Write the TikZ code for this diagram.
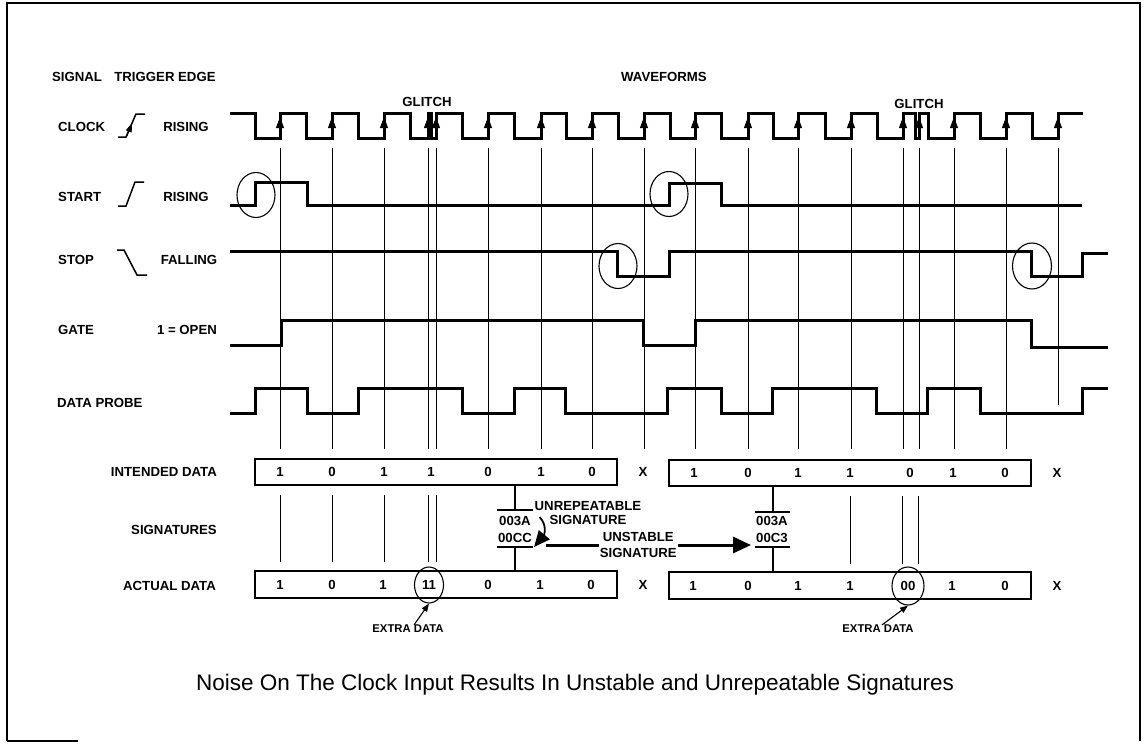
\documentclass[tikz,border=0pt]{standalone}
\usepackage{fontspec}
\setmainfont{Liberation Sans}
\usetikzlibrary{arrows.meta, shapes.geometric}

\begin{document}
\begin{tikzpicture}[x=1pt, y=-1pt,
  wave/.style={line width=3pt, line join=miter},
  sampleline/.style={line width=1pt},
  databox/.style={line width=1.6pt},
  trig/.style={line width=1.5pt},
  lbl/.style={inner sep=0pt, font=\fontsize{13.2}{14}\selectfont\bfseries},
  small/.style={inner sep=0pt, font=\fontsize{11.3}{12}\selectfont\bfseries},
  ring/.style={ellipse, draw, line width=1.1pt, inner sep=0pt},
  clkarrow/.style={line width=0.8pt, -{Triangle[length=11pt,width=8pt]}},
  thinarrow/.style={line width=1.1pt, -{Triangle[length=8pt,width=6pt]}},
  fatarrow/.style={line width=3pt, -{Triangle[length=18pt,width=16pt]}},
]
\useasboundingbox (0,0) rectangle (1146,744);

% frame
\draw[line width=2.4pt] (7,741) -- (7,3) -- (1140,3) -- (1140,741);
\draw[line width=2.4pt] (7,741) -- (78,741);

% headings
\node[lbl] (sighd) at (77,77) {SIGNAL};
\node[lbl] (trghd) at (165,77) {TRIGGER EDGE};
\node[lbl] (wavhd) at (664,77) {WAVEFORMS};

\node[lbl, anchor=west] (clk) at (58,127) {CLOCK};
\node[lbl] (clkedge) at (186,127) {RISING};
\node[lbl, anchor=west] (start) at (58,197) {START};
\node[lbl] (startedge) at (186,197) {RISING};
\node[lbl, anchor=west] (stop) at (58,260) {STOP};
\node[lbl] (stopedge) at (189,260) {FALLING};
\node[lbl, anchor=west] (gate) at (58,330) {GATE};
\node[lbl] (gateedge) at (187,330) {1 = OPEN};
\node[lbl, anchor=west] (probe) at (57,403) {DATA PROBE};
\node[lbl, anchor=east] (intd) at (217,472) {INTENDED DATA};
\node[lbl, anchor=east] (sigs) at (217,530) {SIGNATURES};
\node[lbl, anchor=east] (actd) at (216,586) {ACTUAL DATA};

% trigger edge symbols
\draw[trig] (118,137) -- (126,137) -- (136,114) -- (145,114);
\draw[line width=0.8pt, -{Triangle[length=9pt,width=6pt]}] (127,136) -- (132,123);
\draw[trig] (118,206) -- (126,206) -- (135,182) -- (144,182);
\draw[trig] (117,250) -- (124,250) -- (137,275) -- (147,275);

% waveforms
\draw[wave] (230,113) -- (255,113) -- (255,138) -- (280,138) -- (280,113) -- (306,113) -- (306,138) -- (332,138) -- (332,113) -- (358,113) -- (358,138) -- (384,138) -- (384,113) -- (410,113) -- (410,138) -- (428,138) -- (428,113) -- (431,113) -- (431,138) -- (436,138) -- (436,113) -- (462,113) -- (462,138) -- (488,138) -- (488,113) -- (514,113) -- (514,138) -- (541,138) -- (541,113) -- (566,113) -- (566,138) -- (592,138) -- (592,113) -- (618,113) -- (618,138) -- (644,138) -- (644,113) -- (670,113) -- (670,138) -- (695,138) -- (695,113) -- (721,113) -- (721,138) -- (748,138) -- (748,113) -- (773,113) -- (773,138) -- (798,138) -- (798,113) -- (825,113) -- (825,138) -- (851,138) -- (851,113) -- (877,113) -- (877,138) -- (903,138) -- (903,113) -- (915,113) -- (915,138) -- (919,138) -- (919,113) -- (928,113) -- (928,138) -- (954,138) -- (954,113) -- (980,113) -- (980,138) -- (1006,138) -- (1006,113) -- (1032,113) -- (1032,138) -- (1058,138) -- (1058,113) -- (1083,113);
\draw[wave] (230,205) -- (255,205) -- (255,182) -- (307,182) -- (307,205) -- (669,205) -- (669,183) -- (721,183) -- (721,205) -- (1082,205);
\draw[wave] (230,251) -- (617,251) -- (617,276) -- (669,276) -- (669,251) -- (1031,251) -- (1031,276) -- (1082,276) -- (1082,253) -- (1108,253);
\draw[wave] (230,345) -- (281,345) -- (281,320) -- (643,320) -- (643,345) -- (695,345) -- (695,320) -- (1031,320) -- (1031,347) -- (1108,347);
\draw[wave] (230,413) -- (255,413) -- (255,388) -- (307,388) -- (307,413) -- (358,413) -- (358,388) -- (462,388) -- (462,413) -- (514,413) -- (514,388) -- (565,388) -- (565,413) -- (667,413) -- (667,388) -- (721,388) -- (721,413) -- (772,413) -- (772,388) -- (876,388) -- (876,413) -- (927,413) -- (927,388) -- (980,388) -- (980,413) -- (1082,413) -- (1082,388) -- (1108,388);

% clock edges
\draw[clkarrow] (280,138) -- (280,117);
\draw[clkarrow] (332,138) -- (332,117);
\draw[clkarrow] (384,138) -- (384,117);
\draw[clkarrow] (428,138) -- (428,117);
\draw[clkarrow] (436,138) -- (436,117);
\draw[clkarrow] (488,138) -- (488,117);
\draw[clkarrow] (541,138) -- (541,117);
\draw[clkarrow] (592,138) -- (592,117);
\draw[clkarrow] (644,138) -- (644,117);
\draw[clkarrow] (695,138) -- (695,117);
\draw[clkarrow] (748,138) -- (748,117);
\draw[clkarrow] (798,138) -- (798,117);
\draw[clkarrow] (851,138) -- (851,117);
\draw[clkarrow] (903,138) -- (903,117);
\draw[clkarrow] (919,138) -- (919,117);
\draw[clkarrow] (954,138) -- (954,117);
\draw[clkarrow] (1006,138) -- (1006,117);
\draw[clkarrow] (1058,138) -- (1058,117);

\node[lbl] (gl1) at (427,102) {GLITCH};
\node[lbl] (gl2) at (919,104) {GLITCH};

% sample lines
\draw[sampleline] (280,148) -- (280,449);
\draw[sampleline] (332,148) -- (332,449);
\draw[sampleline] (384,148) -- (384,449);
\draw[sampleline] (428,148) -- (428,449);
\draw[sampleline] (436,148) -- (436,449);
\draw[sampleline] (488,148) -- (488,449);
\draw[sampleline] (541,148) -- (541,449);
\draw[sampleline] (592,148) -- (592,449);
\draw[sampleline] (644,148) -- (644,449);
\draw[sampleline] (695,148) -- (695,449);
\draw[sampleline] (748,148) -- (748,449);
\draw[sampleline] (798,148) -- (798,449);
\draw[sampleline] (851,148) -- (851,449);
\draw[sampleline] (903,148) -- (903,449);
\draw[sampleline] (919,148) -- (919,449);
\draw[sampleline] (954,148) -- (954,449);
\draw[sampleline] (1006,148) -- (1006,449);
\draw[sampleline] (1058,148) -- (1058,405);

\draw[sampleline] (280,495) -- (280,562);
\draw[sampleline] (332,495) -- (332,562);
\draw[sampleline] (384,495) -- (384,562);
\draw[sampleline] (428,495) -- (428,562);
\draw[sampleline] (436,495) -- (436,562);
\draw[sampleline] (850,496) -- (850,564);
\draw[sampleline] (902,496) -- (902,564);
\draw[sampleline] (918,496) -- (918,564);

% circled edges
\node[ring, minimum width=38pt, minimum height=45pt] (st1) at (256,195) {};
\node[ring, minimum width=38pt, minimum height=45pt] (st2) at (669,194) {};
\node[ring, minimum width=38pt, minimum height=45pt] (sp1) at (618,266) {};
\node[ring, minimum width=39pt, minimum height=46pt] (sp2) at (1032,266) {};

% intended data
\draw[databox] (255,459) rectangle (617,485);
\draw[databox] (669,460) rectangle (1031,486);
\node[lbl] (ia1) at (280,472) {1};
\node[lbl] (ia2) at (332,472) {0};
\node[lbl] (ia3) at (384,472) {1};
\node[lbl] (ia4) at (431,472) {1};
\node[lbl] (ia5) at (488,472) {0};
\node[lbl] (ia6) at (541,472) {1};
\node[lbl] (ia7) at (592,472) {0};
\node[lbl] (iax) at (643,472) {X};
\node[lbl] (ib1) at (694,473) {1};
\node[lbl] (ib2) at (748,473) {0};
\node[lbl] (ib3) at (798,473) {1};
\node[lbl] (ib4) at (850,473) {1};
\node[lbl] (ib5) at (910,473) {0};
\node[lbl] (ib6) at (953,473) {1};
\node[lbl] (ib7) at (1005,473) {0};
\node[lbl] (ibx) at (1057,473) {X};

% actual data
\draw[databox] (255,571) rectangle (617,598);
\draw[databox] (669,572) rectangle (1031,599);
\node[lbl] (aa1) at (280,585) {1};
\node[lbl] (aa2) at (332,585) {0};
\node[lbl] (aa3) at (383,585) {1};
\node[ring, lbl, minimum width=29pt, minimum height=36pt] (aa4) at (429,585) {11};
\node[lbl] (aa5) at (488,585) {0};
\node[lbl] (aa6) at (540,585) {1};
\node[lbl] (aa7) at (591,585) {0};
\node[lbl] (aax) at (643,585) {X};
\node[lbl] (ab1) at (693,586) {1};
\node[lbl] (ab2) at (748,586) {0};
\node[lbl] (ab3) at (798,586) {1};
\node[lbl] (ab4) at (850,586) {1};
\node[ring, lbl, minimum width=32pt, minimum height=38pt] (ab5) at (908,586) {00};
\node[lbl] (ab6) at (952,586) {1};
\node[lbl] (ab7) at (1005,586) {0};
\node[lbl] (abx) at (1057,586) {X};

% signatures
\draw[databox] (515,485) -- (515,510);
\draw[databox] (497,510) -- (533,510);
\node[lbl] (sa1) at (515,521) {003A};
\node[lbl] (sc1) at (515,538) {00CC};
\draw[databox] (497,547) -- (533,547);
\draw[databox] (515,547) -- (515,571);

\draw[databox] (773,486) -- (773,512);
\draw[databox] (755,512) -- (790,512);
\node[lbl] (sa2) at (772,521) {003A};
\node[lbl] (sc2) at (772,538) {00C3};
\draw[databox] (755,547) -- (790,547);
\draw[databox] (773,547) -- (773,572);

\node[lbl, align=center] (unrep) at (588,513) {UNREPEATABLE\\SIGNATURE};
\draw[line width=1.8pt, -{Triangle[length=16pt,width=14pt]}] ([xshift=5pt,yshift=-4pt]unrep.west) .. controls +(8,8) and +(10,-12) .. ([xshift=2pt,yshift=-9pt]sc1.east);
\draw[fatarrow] ([xshift=14pt,yshift=-7pt]sc1.east) -- node[lbl, fill=white, inner sep=1pt, align=center, font=\fontsize{13.2}{16}\selectfont\bfseries, pos=0.45] (unst) {UNSTABLE\\SIGNATURE} ([xshift=-5pt,yshift=-7pt]sc2.west);

% extra data
\node[small] (ex1) at (408,629) {EXTRA DATA};
\node[small] (ex2) at (878,629) {EXTRA DATA};
\draw[thinarrow] ([xshift=6pt]ex1.north) -- (aa4.south);
\draw[thinarrow] ([xshift=4pt]ex2.north) -- (ab5.south);

\node[inner sep=0pt, font=\fontsize{22.5}{24}\selectfont] (cap) at (575,685) {Noise On The Clock Input Results In Unstable and Unrepeatable Signatures};
\end{tikzpicture}
\end{document}
